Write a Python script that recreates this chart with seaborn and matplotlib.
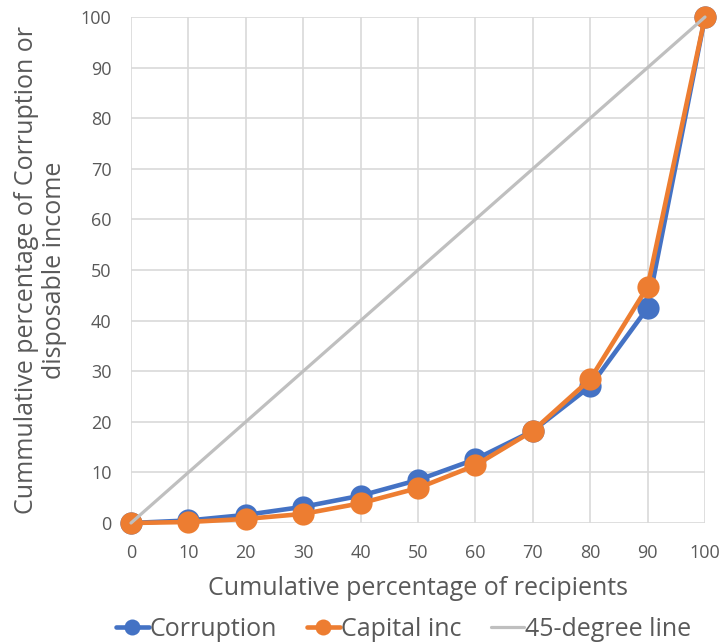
import pandas as pd
import matplotlib.pyplot as plt
import seaborn as sns

# cumulative shares
recipients = [0, 10, 20, 30, 40, 50, 60, 70, 80, 90, 100]
corruption = [0, 0.5, 1.6, 3.2, 5.4, 8.5, 12.6, 18.2, 27.0, 42.5, 100]
capital_inc = [0, 0.2, 0.8, 1.8, 3.9, 6.9, 11.4, 18.2, 28.4, 46.7, 100]
equality = [0, 100]

sns.set_style("white")
plt.rcParams["font.family"] = ["Open Sans", "DejaVu Sans"]
text_col = "#595959"

df = pd.DataFrame({"x": recipients, "Corruption": corruption, "Capital inc": capital_inc})
df_eq = pd.DataFrame({"x": equality, "y": equality})

fig = plt.figure(figsize=(7.25, 6.44), dpi=100)
ax = fig.add_axes([131 / 725, 1 - 523 / 644, (705 - 131) / 725, (523 - 17) / 644])

sns.lineplot(data=df, x="x", y="Corruption", ax=ax, color="#4472C4", linewidth=3.3,
             marker="o", markersize=16, markeredgewidth=0, label="Corruption", zorder=3, clip_on=False)
sns.lineplot(data=df, x="x", y="Capital inc", ax=ax, color="#ED7D31", linewidth=3.3,
             marker="o", markersize=16, markeredgewidth=0, label="Capital inc", zorder=4, clip_on=False)
sns.lineplot(data=df_eq, x="x", y="y", ax=ax, color="#BFBFBF", linewidth=2.3,
             label="45-degree line", zorder=5, clip_on=False)

ax.set_xlim(0, 100)
ax.set_ylim(0, 100)
ax.set_xticks(range(0, 101, 10))
ax.set_yticks(range(0, 101, 10))
ax.grid(True, color="#D9D9D9", linewidth=1.2)
for s in ax.spines.values():
    s.set_visible(False)
ax.tick_params(axis="both", length=0, labelsize=13, labelcolor=text_col)
ax.tick_params(axis="x", pad=15)
ax.tick_params(axis="y", pad=14)

ax.set_xlabel("Cumulative percentage of recipients", fontsize=18, color=text_col, labelpad=10)
ax.set_ylabel("Cummulative percentage of Corruption or\ndisposable income", fontsize=18,
              color=text_col, labelpad=10, linespacing=1.15)

leg = ax.legend(loc="center", bbox_to_anchor=(0.475, (523 - 629) / 506), ncol=3, frameon=False,
                fontsize=18, handlelength=1.3, handletextpad=0.05, columnspacing=1.2,
                markerscale=0.72, borderaxespad=0)
for t in leg.get_texts():
    t.set_color(text_col)

fig.savefig("out.png", dpi=100)
